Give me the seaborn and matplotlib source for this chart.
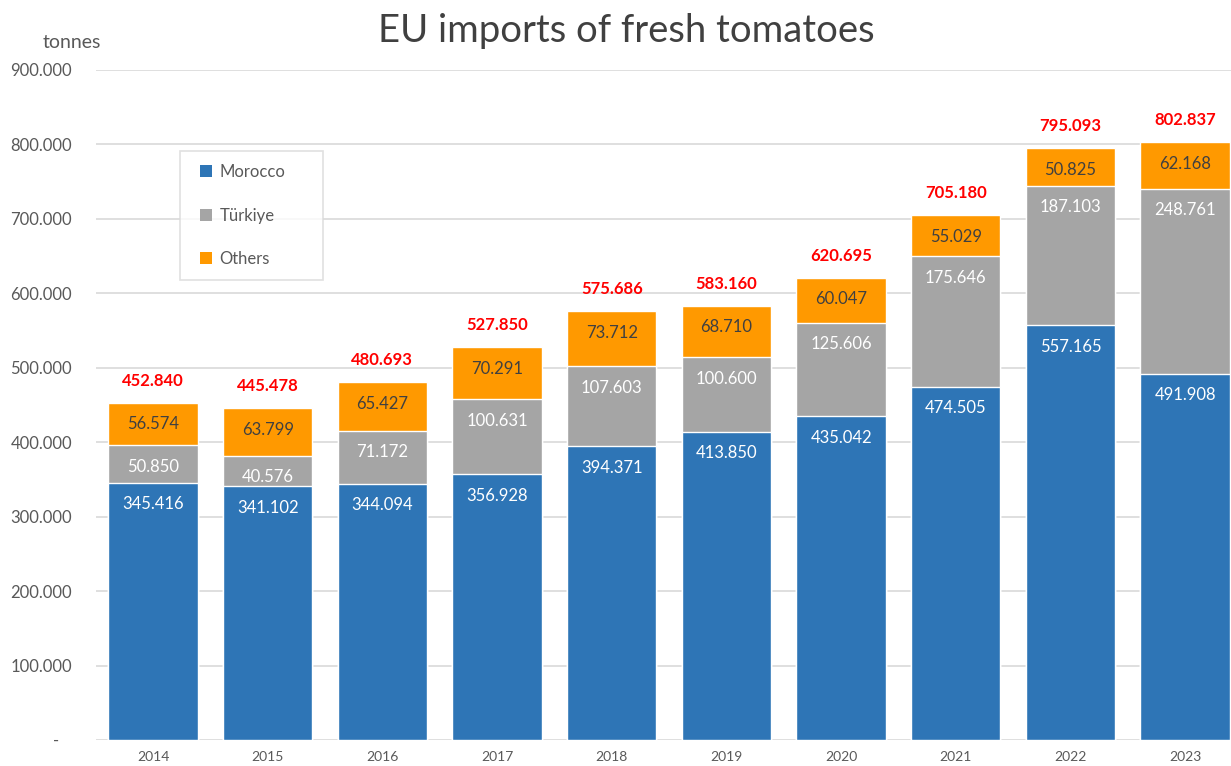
import pandas as pd
import matplotlib
matplotlib.use('Agg')
import matplotlib.pyplot as plt
import matplotlib.ticker as mticker
from matplotlib.lines import Line2D
import seaborn as sns

# data (tonnes)
years = ['2014', '2015', '2016', '2017', '2018', '2019', '2020', '2021', '2022', '2023']
morocco = [345416, 341102, 344094, 356928, 394371, 413850, 435042, 474505, 557165, 491908]
turkiye = [50850, 40576, 71172, 100631, 107603, 100600, 125606, 175646, 187103, 248761]
others = [56574, 63799, 65427, 70291, 73712, 68710, 60047, 55029, 50825, 62168]
totals = [452840, 445478, 480693, 527850, 575686, 583160, 620695, 705180, 795093, 802837]

c_mor = '#2E75B6'
c_tur = '#A5A5A5'
c_oth = '#FF9900'
txt = '#595959'

sns.set_theme(style='white')
plt.rcParams['font.family'] = ['Lato', 'DejaVu Sans']

df = pd.DataFrame({'year': years, 'Morocco': morocco, 'Türkiye': turkiye, 'Others': others})
df['top_tur'] = df['Morocco'] + df['Türkiye']
df['top_oth'] = df['top_tur'] + df['Others']


def fmt(v):
    return f'{v:,}'.replace(',', '.')


fig = plt.figure(figsize=(12.31, 7.66), dpi=100)
ax = fig.add_axes([95.7 / 1231, 26 / 766, (1231 - 95.7) / 1231, 670 / 766])

# stacked bars drawn as overlapping cumulative bars
sns.barplot(data=df, x='year', y='top_oth', color=c_oth, width=0.78, saturation=1, ax=ax, zorder=3)
sns.barplot(data=df, x='year', y='top_tur', color=c_tur, width=0.78, saturation=1, ax=ax, zorder=3)
sns.barplot(data=df, x='year', y='Morocco', color=c_mor, width=0.78, saturation=1, ax=ax, zorder=3)

ax.set_xlim(-0.5, 9.4)
ax.set_ylim(0, 900000)
ax.yaxis.set_major_locator(mticker.MultipleLocator(100000))
ax.yaxis.set_major_formatter(mticker.FuncFormatter(lambda v, p: '-   ' if v == 0 else fmt(int(v))))
ax.grid(axis='y', color='#D9D9D9', lw=1.2, zorder=0)
ax.set_axisbelow(True)
for s in ax.spines.values():
    s.set_visible(False)
ax.set_xlabel('')
ax.set_ylabel('')
ax.tick_params(axis='y', length=0, pad=17, labelsize=12, labelcolor=txt)
ax.tick_params(axis='x', length=0, pad=8, labelsize=10, labelcolor=txt)

# data labels inside the top end of each segment
for i in range(len(years)):
    ax.annotate(fmt(morocco[i]), (i, df['Morocco'][i]), xytext=(0, -15.5), textcoords='offset points',
                ha='center', va='center', fontsize=12, color='white', zorder=5)
    ax.annotate(fmt(turkiye[i]), (i, df['top_tur'][i]), xytext=(0, -15.5), textcoords='offset points',
                ha='center', va='center', fontsize=12, color='white', zorder=5)
    ax.annotate(fmt(others[i]), (i, df['top_oth'][i]), xytext=(0, -15.5), textcoords='offset points',
                ha='center', va='center', fontsize=12, color='#404040', zorder=5)
    ax.annotate(fmt(totals[i]), (i, df['top_oth'][i]), xytext=(0, 16), textcoords='offset points',
                ha='center', va='center', fontsize=12, color='#FF0000', fontweight='bold', zorder=5)

handles = [Line2D([], [], ls='none', marker='s', ms=8, mew=0, color=c, label=l)
           for c, l in [(c_mor, 'Morocco'), (c_tur, 'Türkiye'), (c_oth, 'Others')]]
leg = fig.legend(handles=handles, loc='upper left',
                 bbox_to_anchor=(180 / 1231, 1 - 278 / 766, 143 / 1231, 127 / 766),
                 bbox_transform=fig.transFigure, mode='expand', borderaxespad=0, frameon=True,
                 fancybox=False, fontsize=12, labelspacing=1.67, handlelength=1.6,
                 handletextpad=0.0, borderpad=0.76, labelcolor=txt)
leg.get_frame().set_edgecolor('#D9D9D9')
leg.get_frame().set_linewidth(1.2)

fig.text(626 / 1231, 1 - 31 / 766, 'EU imports of fresh tomatoes', ha='center', va='center',
         fontsize=27.5, color='#404040')
fig.text(43 / 1231, 1 - 43 / 766, 'tonnes', ha='left', va='center', fontsize=14, color=txt)

fig.savefig('out.png', dpi=100)
